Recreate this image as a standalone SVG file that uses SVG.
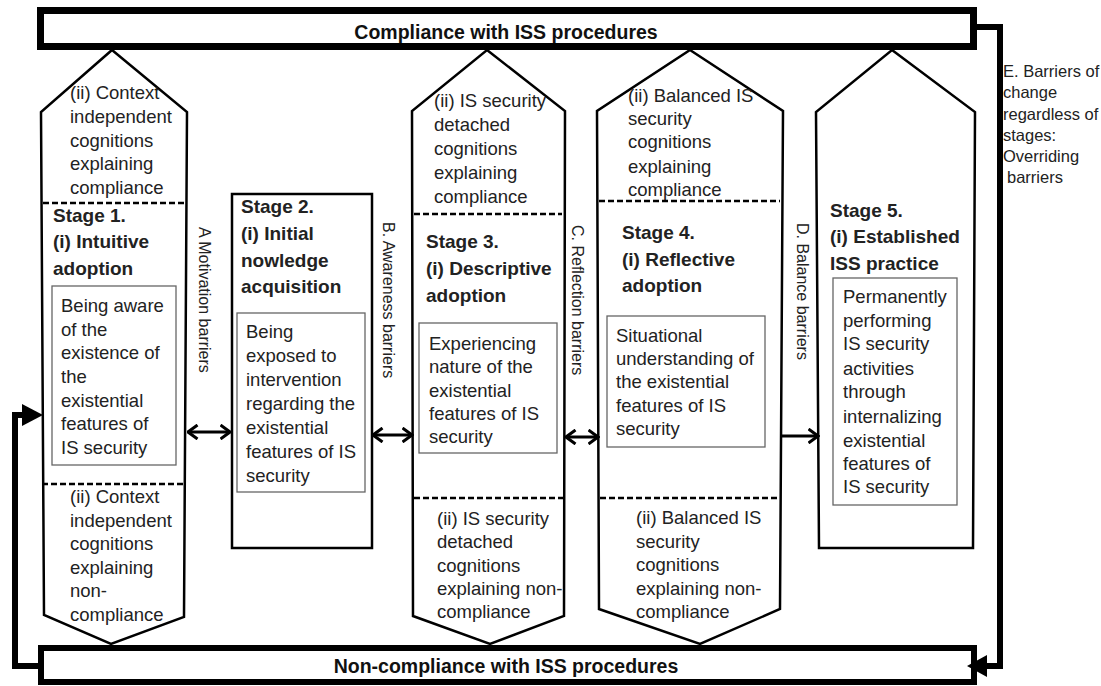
<svg xmlns="http://www.w3.org/2000/svg" width="1101" height="686" viewBox="0 0 1101 686">
<style>
text{font-family:"Liberation Sans",Arial,sans-serif;fill:#222}
.t{font-size:18.5px}
.b{font-size:19px;font-weight:bold;fill:#111}
.bar{font-size:19.5px;font-weight:bold;fill:#111}
.v{font-size:16px}
.e{font-size:16.5px}
.shape{fill:#fff;stroke:#000;stroke-width:2.5;stroke-linejoin:miter}
.box{fill:#fff;stroke:#666;stroke-width:1.3}
.dash{stroke:#000;stroke-width:2.5;stroke-dasharray:6 3;fill:none}
.thick{fill:#fff;stroke:#000}
.conn{fill:none;stroke:#000;stroke-width:6;stroke-linejoin:miter}
.arr{fill:none;stroke:#000;stroke-width:3}
</style>
<defs>
<marker id="chev" viewBox="0 0 12 16" refX="10.5" refY="8" markerWidth="12" markerHeight="16" markerUnits="userSpaceOnUse" orient="auto-start-reverse">
<path d="M1,1 L10.5,8 L1,15" fill="none" stroke="#000" stroke-width="3"/>
</marker>
</defs>

<g id="compliance-bar">
<rect class="thick" x="40.5" y="10.5" width="933" height="36" stroke-width="7"/>
<text class="bar" x="506" y="39" text-anchor="middle">Compliance with ISS procedures</text>
</g>

<g id="noncompliance-bar">
<rect class="thick" x="41" y="648" width="933" height="34" stroke-width="6"/>
<text class="bar" x="506" y="673" text-anchor="middle">Non-compliance with ISS procedures</text>
</g>

<g id="stage1">
<polygon class="shape" points="112,50 187,112 184,617 111,644 44,615 41,112"/>
<g class="t">
<text x="70" y="99">(ii) Context</text>
<text x="70" y="123">independent</text>
<text x="70" y="147">cognitions</text>
<text x="70" y="170">explaining</text>
<text x="70" y="194">compliance</text>
</g>
<line class="dash" x1="43" y1="203" x2="185" y2="203"/>
<g class="b">
<text x="53" y="222">Stage 1.</text>
<text x="53" y="248">(i) Intuitive</text>
<text x="53" y="275">adoption</text>
</g>
<rect class="box" x="52" y="286" width="124" height="179"/>
<g class="t">
<text x="61" y="312">Being aware</text>
<text x="61" y="335.5">of the</text>
<text x="61" y="359">existence of</text>
<text x="61" y="383">the</text>
<text x="61" y="407">existential</text>
<text x="61" y="430">features of</text>
<text x="61" y="454">IS security</text>
</g>
<line class="dash" x1="42" y1="484" x2="184" y2="484"/>
<g class="t">
<text x="70" y="503">(ii) Context</text>
<text x="70" y="527">independent</text>
<text x="70" y="550">cognitions</text>
<text x="70" y="574">explaining</text>
<text x="70" y="597">non-</text>
<text x="70" y="621">compliance</text>
</g>
</g>

<g id="stage2">
<rect class="shape" x="232" y="194" width="140" height="354"/>
<g class="b">
<text x="241" y="213">Stage 2.</text>
<text x="241" y="240">(i) Initial</text>
<text x="241" y="267">nowledge</text>
<text x="241" y="293">acquisition</text>
</g>
<rect class="box" x="237" y="313" width="128" height="179"/>
<g class="t">
<text x="246" y="338">Being</text>
<text x="246" y="362">exposed to</text>
<text x="246" y="386">intervention</text>
<text x="246" y="410">regarding the</text>
<text x="246" y="434">existential</text>
<text x="246" y="458">features of IS</text>
<text x="246" y="482">security</text>
</g>
</g>

<g id="stage3">
<polygon class="shape" points="487,50 565,111 564,616 490,644 413,616 412,111"/>
<g class="t">
<text x="434" y="107">(ii) IS security</text>
<text x="434" y="131">detached</text>
<text x="434" y="155">cognitions</text>
<text x="434" y="179">explaining</text>
<text x="434" y="203">compliance</text>
</g>
<line class="dash" x1="414" y1="214" x2="562" y2="214"/>
<g class="b">
<text x="426" y="248">Stage 3.</text>
<text x="426" y="275">(i) Descriptive</text>
<text x="426" y="302">adoption</text>
</g>
<rect class="box" x="419" y="323" width="138" height="130"/>
<g class="t">
<text x="429" y="350">Experiencing</text>
<text x="429" y="373">nature of the</text>
<text x="429" y="397">existential</text>
<text x="429" y="420">features of IS</text>
<text x="429" y="443">security</text>
</g>
<line class="dash" x1="414" y1="498" x2="563" y2="498"/>
<g class="t">
<text x="437" y="525">(ii) IS security</text>
<text x="437" y="548">detached</text>
<text x="437" y="572">cognitions</text>
<text x="437" y="595">explaining non-</text>
<text x="437" y="618">compliance</text>
</g>
</g>

<g id="stage4">
<polygon class="shape" points="690,50 783,111 780,609 700,644 599,609 597,111"/>
<g class="t">
<text x="628" y="102">(ii) Balanced IS</text>
<text x="628" y="125">security</text>
<text x="628" y="148">cognitions</text>
<text x="628" y="173">explaining</text>
<text x="628" y="196">compliance</text>
</g>
<line class="dash" x1="599" y1="201" x2="780" y2="201"/>
<g class="b">
<text x="622" y="239">Stage 4.</text>
<text x="622" y="265.5">(i) Reflective</text>
<text x="622" y="292">adoption</text>
</g>
<rect class="box" x="607" y="316" width="158" height="131"/>
<g class="t">
<text x="616" y="342">Situational</text>
<text x="616" y="365">understanding of</text>
<text x="616" y="388">the existential</text>
<text x="616" y="412">features of IS</text>
<text x="616" y="435">security</text>
</g>
<line class="dash" x1="600" y1="498" x2="779" y2="498"/>
<g class="t">
<text x="636" y="524">(ii) Balanced IS</text>
<text x="636" y="547.5">security</text>
<text x="636" y="571">cognitions</text>
<text x="636" y="594.5">explaining non-</text>
<text x="636" y="618">compliance</text>
</g>
</g>

<g id="stage5">
<polygon class="shape" points="892,50 975,112 973,548 819,548 816,112"/>
<g class="b">
<text x="830" y="217">Stage 5.</text>
<text x="830" y="243">(i) Established</text>
<text x="830" y="270">ISS practice</text>
</g>
<rect class="box" x="833" y="278" width="124" height="227"/>
<g class="t">
<text x="843" y="303">Permanently</text>
<text x="843" y="327">performing</text>
<text x="843" y="350">IS security</text>
<text x="843" y="375">activities</text>
<text x="843" y="398">through</text>
<text x="843" y="423">internalizing</text>
<text x="843" y="447">existential</text>
<text x="843" y="470">features of</text>
<text x="843" y="493">IS security</text>
</g>
</g>

<g id="barrier-labels" class="v">
<text transform="translate(199,227) rotate(90)">A Motivation barriers</text>
<text transform="translate(383,222) rotate(90)">B. Awareness barriers</text>
<text transform="translate(572,225) rotate(90)">C. Reflection barriers</text>
<text transform="translate(797,223) rotate(90)">D. Balance barriers</text>
</g>

<g id="overriding-label" class="e">
<text x="1003" y="77">E. Barriers of</text>
<text x="1003" y="98">change</text>
<text x="1003" y="120">regardless of</text>
<text x="1003" y="141">stages:</text>
<text x="1003" y="162">Overriding</text>
<text x="1007" y="183">barriers</text>
</g>

<g id="connectors">
<line class="arr" x1="188" y1="432" x2="230" y2="432" marker-start="url(#chev)" marker-end="url(#chev)"/>
<line class="arr" x1="373" y1="435" x2="412" y2="435" marker-start="url(#chev)" marker-end="url(#chev)"/>
<line class="arr" x1="566" y1="437" x2="598" y2="437" marker-start="url(#chev)" marker-end="url(#chev)"/>
<line class="arr" x1="781" y1="436" x2="818" y2="436" marker-end="url(#chev)"/>
<polyline class="conn" points="38,666 15,666 15,415 25,415"/>
<polygon points="22,404 43,415 22,426" fill="#000"/>
<polyline class="conn" points="977,27 1000,27 1000,666 985,666"/>
<polygon points="987,655 967,666 987,677" fill="#000"/>
</g>
</svg>
